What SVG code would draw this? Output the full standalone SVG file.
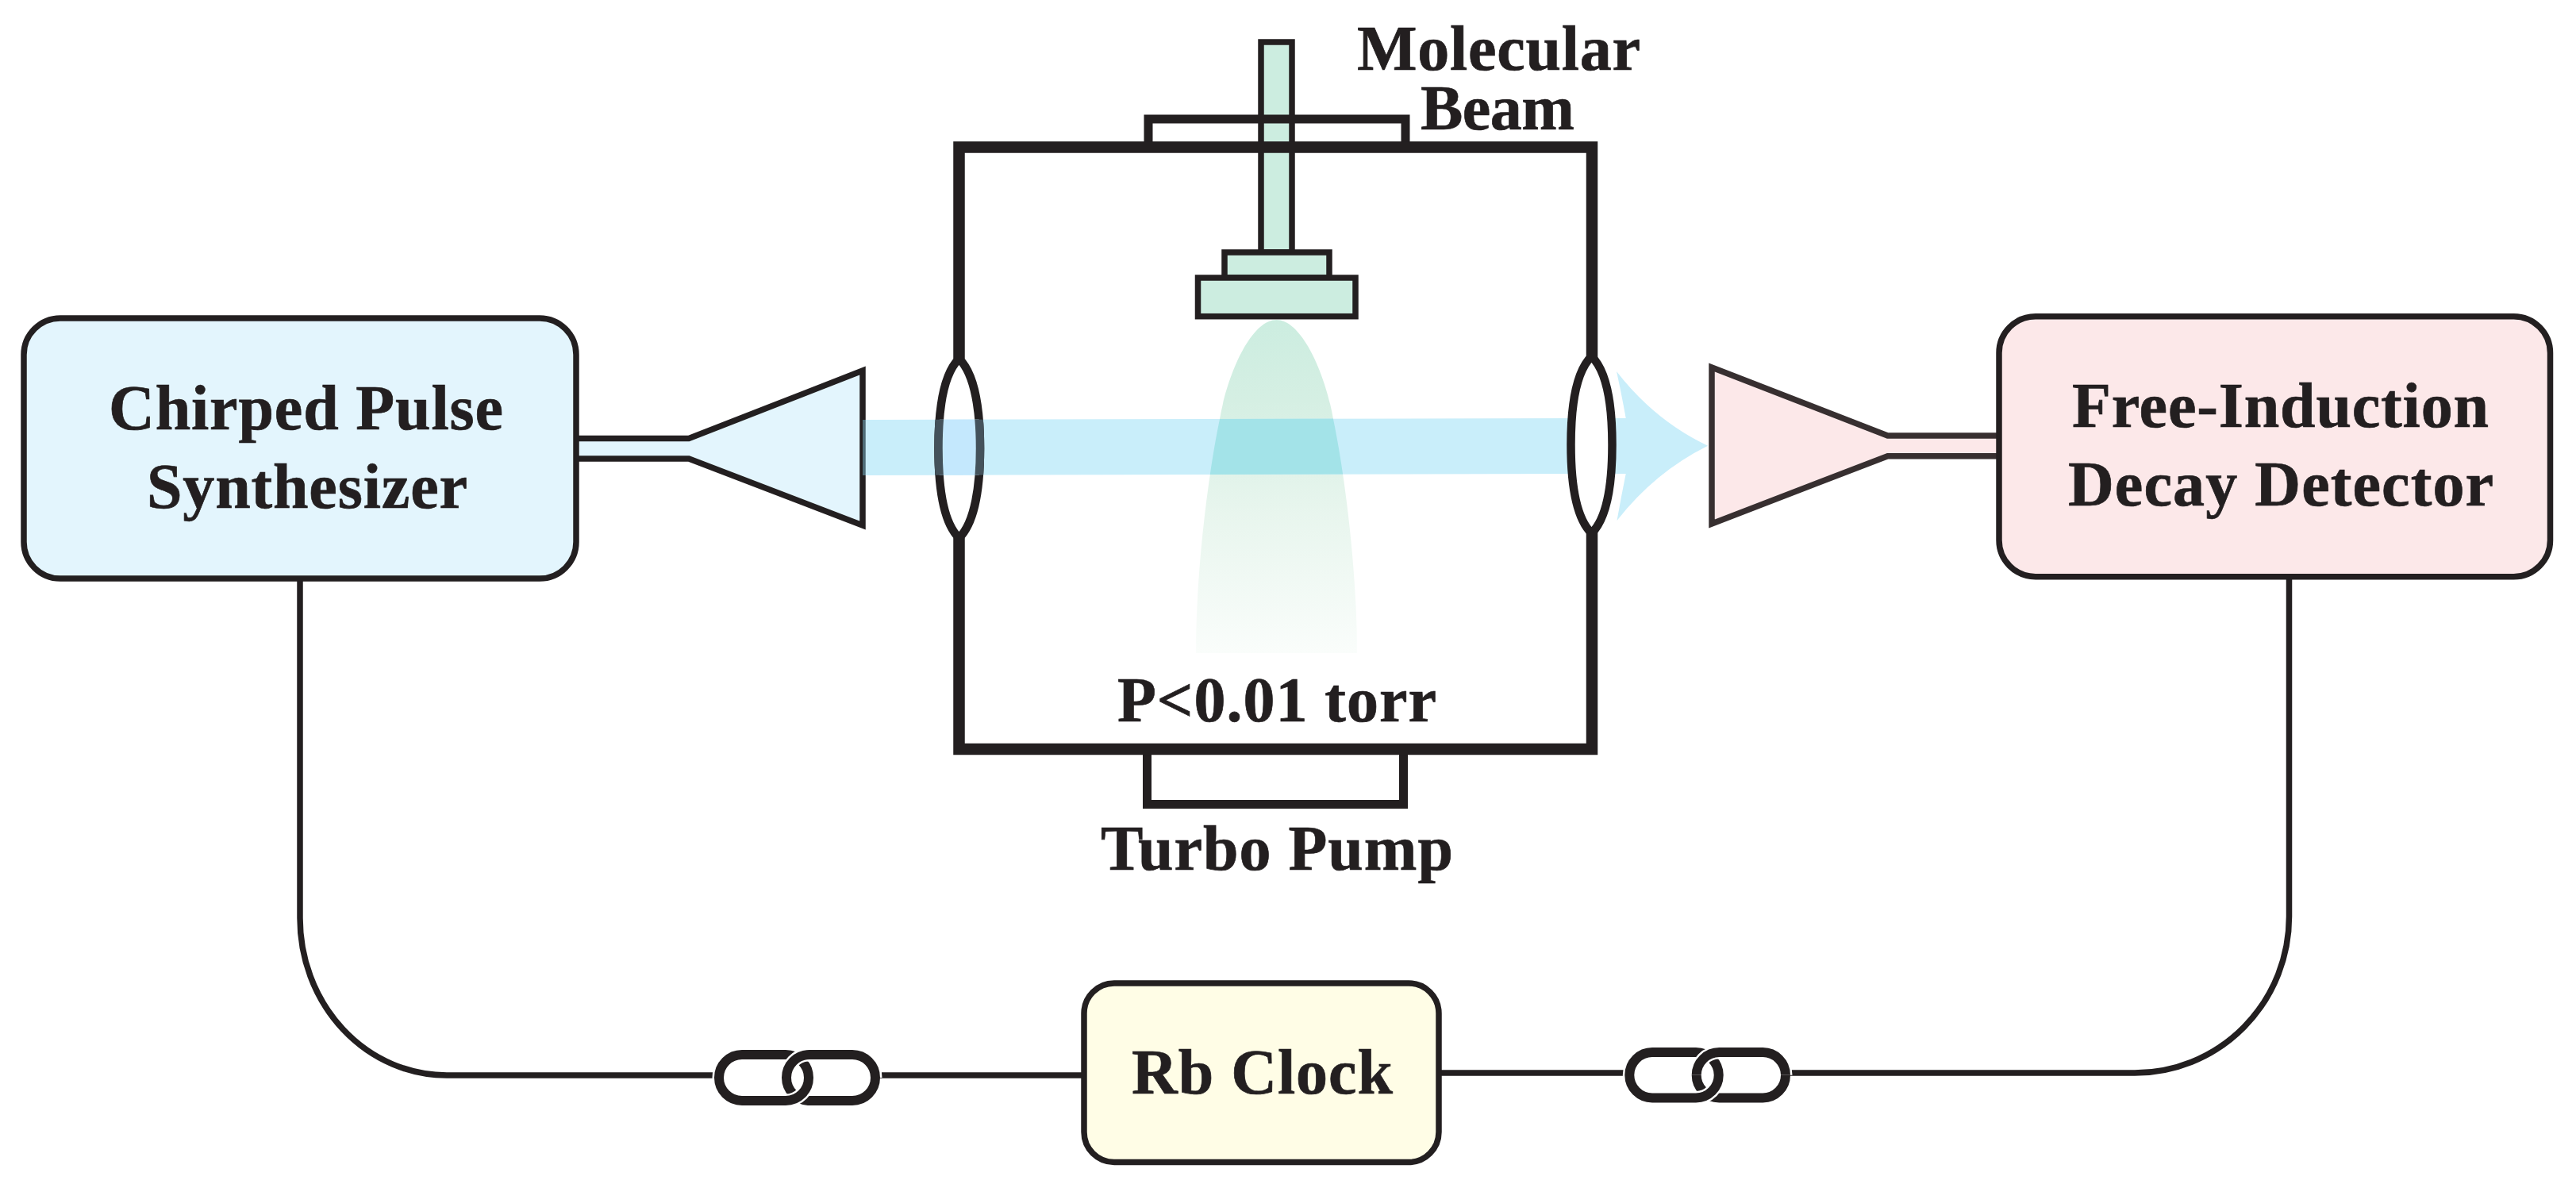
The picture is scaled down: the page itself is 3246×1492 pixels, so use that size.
<svg xmlns="http://www.w3.org/2000/svg" xmlns:xlink="http://www.w3.org/1999/xlink" width="3246" height="1492" viewBox="0 0 3246 1492">
<style>
text{font-family:"Liberation Serif","Times New Roman",serif;font-weight:700;font-size:80px;fill:#231f20;stroke:#231f20;stroke-width:0.7}
.ln{fill:none;stroke:#231f20;stroke-miterlimit:10}
.wire{stroke-width:7.5}
.lk{stroke-width:12}
.halo{fill:none;stroke:#fff;stroke-width:17}
.box{stroke:#231f20;stroke-width:7.5}
.src{fill:#ccede0;stroke:#231f20;stroke-width:7.5}
.wall{stroke-width:14.5}
.fl{stroke-width:11}
.lens{stroke-width:10.5;stroke-linejoin:round}
</style>
<defs>
<linearGradient id="plumeGrad" gradientUnits="userSpaceOnUse" x1="0" y1="403" x2="0" y2="823">
<stop offset="0" stop-color="#ccede0"/><stop offset="0.24" stop-color="#d5efe3"/><stop offset="0.56" stop-color="#e7f5ed"/><stop offset="1" stop-color="#fafdfb"/>
</linearGradient>
<path id="plumeShape" d="M1608.5,403 C1640,403 1670,470 1680,528 C1695,600 1710,720 1710,823 L1507,823 C1507,720 1522,600 1537,528 C1547,470 1577,403 1608.5,403Z"/>
<path id="lensL" d="M1208.5,452 C1188,472 1182.5,520 1182.5,565 C1182.5,610 1188,658 1208.5,678 C1229,658 1235,610 1235,565 C1235,520 1229,472 1208.5,452Z"/>
<path id="hornL" d="M726,552.5 L868,552.5 L1087,467 L1087,662 L868,578 L726,578"/>
<clipPath id="plumeClip"><use xlink:href="#plumeShape"/></clipPath>
<clipPath id="beamClip"><path d="M1087,529 L1990,527 L1990,597 L1087,599Z"/></clipPath>
</defs>
<g id="connectors">
<path class="ln wire" d="M378,729 V1157 A185,198 0 0 0 563,1355 H900"/>
<path class="ln wire" d="M1109,1355 H1366"/>
<path class="ln wire" d="M1813,1352 H2047"/>
<path class="ln wire" d="M2256,1352 H2690 A194.500,197 0 0 0 2884.500,1155 V727"/>
<g id="link-left">
<path class="ln lk" d="M991,1358 A29,29 0 0 0 1020,1387 H1074 A29,29 0 0 0 1103,1358"/>
<rect class="halo" x="906" y="1329" width="113" height="58" rx="29"/>
<rect class="ln lk" x="906" y="1329" width="113" height="58" rx="29"/>
<path class="halo" d="M991,1358 A29,29 0 0 1 1020,1329 H1074 A29,29 0 0 1 1103,1358"/>
<path class="ln lk" d="M991,1358 A29,29 0 0 1 1020,1329 H1074 A29,29 0 0 1 1103,1358"/>
</g>
<g id="link-right">
<path class="ln lk" d="M2137.700,1354.700 A28.700,28.700 0 0 0 2166.400,1383.400 H2221.300 A28.700,28.700 0 0 0 2250,1354.700"/>
<rect class="halo" x="2053.300" y="1326" width="112.400" height="57.400" rx="28.700"/>
<rect class="ln lk" x="2053.300" y="1326" width="112.400" height="57.400" rx="28.700"/>
<path class="halo" d="M2137.700,1354.700 A28.700,28.700 0 0 1 2166.400,1326 H2221.300 A28.700,28.700 0 0 1 2250,1354.700"/>
<path class="ln lk" d="M2137.700,1354.700 A28.700,28.700 0 0 1 2166.400,1326 H2221.300 A28.700,28.700 0 0 1 2250,1354.700"/>
</g>
</g>
<g id="horn-left">
<use xlink:href="#hornL" fill="#e3f5fd" stroke="#231f20" stroke-width="7.5" stroke-miterlimit="10"/>
</g>
<g id="horn-right">
<path d="M2519,549 L2378.600,549 L2157,463 L2157,660 L2378.600,574.700 L2519,574.700" fill="#fce8e9" stroke="#372f30" stroke-width="7.5" stroke-miterlimit="10"/>
</g>
<g id="synthesizer">
<rect class="box" x="30" y="401" width="696" height="328" rx="46" fill="#e3f5fd"/>
<text x="137" y="540.700" textLength="497" lengthAdjust="spacing">Chirped Pulse</text>
<text x="185" y="640" textLength="404" lengthAdjust="spacing">Synthesizer</text>
</g>
<g id="detector">
<rect class="box" x="2519" y="398.700" width="694.500" height="328" rx="46" fill="#fce8e9"/>
<text x="2611" y="538" textLength="525" lengthAdjust="spacing">Free-Induction</text>
<text x="2606" y="637" textLength="536" lengthAdjust="spacing">Decay Detector</text>
</g>
<g id="rb-clock">
<rect class="box" x="1366" y="1239" width="447" height="225.500" rx="38" fill="#fffde6"/>
<text x="1426" y="1378.300" textLength="329" lengthAdjust="spacing">Rb Clock</text>
</g>
<g id="chamber">
<use xlink:href="#plumeShape" fill="url(#plumeGrad)"/>
<path id="beam" fill="#c9eefa" d="M1087,529 L1990,527 L2048.700,527 Q2043,495 2037,468 Q2085,530 2152,561.700 Q2085,595 2037.500,656 Q2043,625 2048.700,597 L1990,597 L1087,599Z"/>
<g clip-path="url(#plumeClip)"><path fill="#a3e3e8" d="M1087,529 L1990,527 L1990,597 L1087,599Z"/></g>
<use xlink:href="#lensL" class="ln lens"/>
<path class="ln lens" style="fill:#fff" d="M2005.500,449 C1985,469 1979.500,516 1979.500,560.500 C1979.500,605 1985,652 2005.500,672 C2026,652 2031.500,605 2031.500,560.500 C2031.500,516 2026,469 2005.500,449Z"/>
<g clip-path="url(#beamClip)">
<use xlink:href="#lensL" fill="#c4e8fd" stroke="#44525b" stroke-width="10.500"/>
<use xlink:href="#hornL" fill="none" stroke="#4f6d78" stroke-width="7.5"/>
</g>
<path class="ln src" d="M1589,53 H1628 V318 H1589Z"/>
<rect class="src" x="1543" y="318" width="132" height="32"/>
<rect class="src" x="1509.500" y="350" width="198.500" height="48.700"/>
<path class="ln fl" d="M1447,186 V150 H1771 V186"/>
<path class="ln fl" d="M1445.500,944 V1013.500 H1768.500 V944"/>
<path class="ln wall" d="M1208.500,452 V185.500 H2006 V450 M2006,671 V944 H1208.500 V678"/>
<text x="1710" y="88.300" textLength="357" lengthAdjust="spacing">Molecular</text>
<text x="1790" y="163" textLength="194" lengthAdjust="spacing">Beam</text>
<text x="1408" y="909.300" textLength="402" lengthAdjust="spacing">P&lt;0.01 torr</text>
<text x="1387" y="1096" textLength="444" lengthAdjust="spacing">Turbo Pump</text>
</g>
</svg>
